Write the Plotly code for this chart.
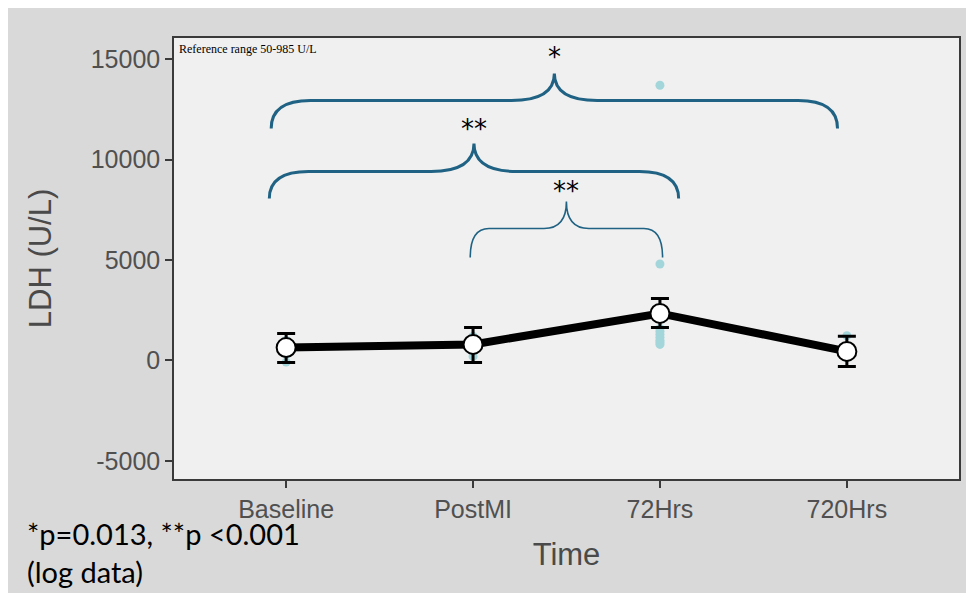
import plotly.graph_objects as go

# ---------------- data ----------------
time_points = ["Baseline", "PostMI", "72Hrs", "720Hrs"]
time_index = [0, 1, 2, 3]
mean_ldh = [640, 800, 2340, 450]
err_upper = [700, 840, 740, 750]
err_lower = [740, 900, 700, 750]

# individual observations (most hidden under the means)
raw_time = [0, 0, 0, 0, 0, 0,
            1, 1, 1, 1, 1,
            2, 2, 2, 2, 2, 2, 2, 2, 2,
            3, 3, 3, 3, 3]
raw_ldh = [-80, 300, 450, 600, 800, 1000,
           200, 400, 600, 900, 1200,
           13700, 4800, 1600, 1450, 1300, 1150, 1000, 900, 800,
           150, 300, 500, 700, 1230]

y_ticks = [15000, 10000, 5000, 0, -5000]

# significance comparisons: (from index, to index, label)
comparisons = [(0, 3, "*"), (0, 2, "**"), (1, 2, "**")]

# ---------------- brace styling (positions in data units) ----------------
brace_style = [
    dict(x0=-0.08, x1=2.95, yb=11542, yh=12935, yp=14279, ys=14250, cw=0.21, cc=0.23, w=3),
    dict(x0=-0.09, x1=2.10, yb=8060, yh=9403, yp=10796, ys=10650, cw=0.21, cc=0.23, w=3),
    dict(x0=0.985, x1=2.014, yb=5124, yh=6567, yp=7910, ys=7600, cw=0.10, cc=0.12, w=1.6),
]
brace_color = "#1f6283"


def brace_path(s):
    x0, x1, yb, yh, yp, cw, cc = s["x0"], s["x1"], s["yb"], s["yh"], s["yp"], s["cw"], s["cc"]
    xc = (x0 + x1) / 2
    return (f"M {x0},{yb} Q {x0},{yh} {x0+cw},{yh} "
            f"L {xc-cc},{yh} Q {xc},{yh} {xc},{yp} "
            f"Q {xc},{yh} {xc+cc},{yh} "
            f"L {x1-cw},{yh} Q {x1},{yh} {x1},{yb}")


fig = go.Figure()

fig.add_trace(go.Scatter(
    x=raw_time, y=raw_ldh, mode="markers",
    marker=dict(color="#a3d6db", size=9),
    showlegend=False, hoverinfo="skip"))

fig.add_trace(go.Scatter(
    x=time_index, y=mean_ldh, mode="lines+markers",
    line=dict(color="black", width=8),
    marker=dict(color="white", size=19, line=dict(color="black", width=2)),
    error_y=dict(type="data", array=err_upper, arrayminus=err_lower,
                 color="black", thickness=3, width=9),
    showlegend=False))

shapes = []
annotations = []
for (a, b, lab), s in zip(comparisons, brace_style):
    shapes.append(dict(type="path", xref="x", yref="y", path=brace_path(s),
                       line=dict(color=brace_color, width=s["w"])))
    annotations.append(dict(x=(s["x0"] + s["x1"]) / 2, y=s["ys"], xref="x", yref="y",
                            text=lab, showarrow=False, yanchor="bottom",
                            font=dict(family="DejaVu Sans", size=26, color="black")))

annotations.append(dict(x=0.004, y=0.995, xref="paper", yref="paper", xanchor="left", yanchor="top",
                        text="Reference range 50-985 U/L", showarrow=False,
                        font=dict(family="Liberation Serif", size=12, color="black")))
annotations.append(dict(x=-0.19, y=-0.08, xref="paper", yref="paper", xanchor="left", yanchor="top",
                        text="*p=0.013, **p &lt;0.001<br>(log data)", showarrow=False, align="left",
                        font=dict(family="Lato", size=29, color="black")))

axis_common = dict(showline=True, linecolor="#3a3a3a", linewidth=1.5, mirror=True,
                   ticks="outside", ticklen=7, tickwidth=2, tickcolor="#3a3a3a",
                   showgrid=False, zeroline=False,
                   tickfont=dict(family="Liberation Sans", size=25, color="#505050"))

fig.update_layout(
    width=974, height=593,
    margin=dict(l=166, r=23, t=30, b=122),
    paper_bgcolor="#d9d9d9", plot_bgcolor="#f0f0f0",
    xaxis=dict(range=[-0.6, 3.6], tickvals=time_index, ticktext=time_points,
               title=dict(text="Time", font=dict(family="Liberation Sans", size=31, color="#4a4a4a"),
                          standoff=22),
               **axis_common),
    yaxis=dict(range=[-5900, 16050], tickvals=y_ticks, ticktext=[str(v) for v in y_ticks],
               title=dict(text="LDH (U/L)", font=dict(family="Liberation Sans", size=31, color="#4a4a4a"),
                          standoff=30),
               **axis_common),
    shapes=shapes, annotations=annotations,
)

fig.write_html("out.html")
